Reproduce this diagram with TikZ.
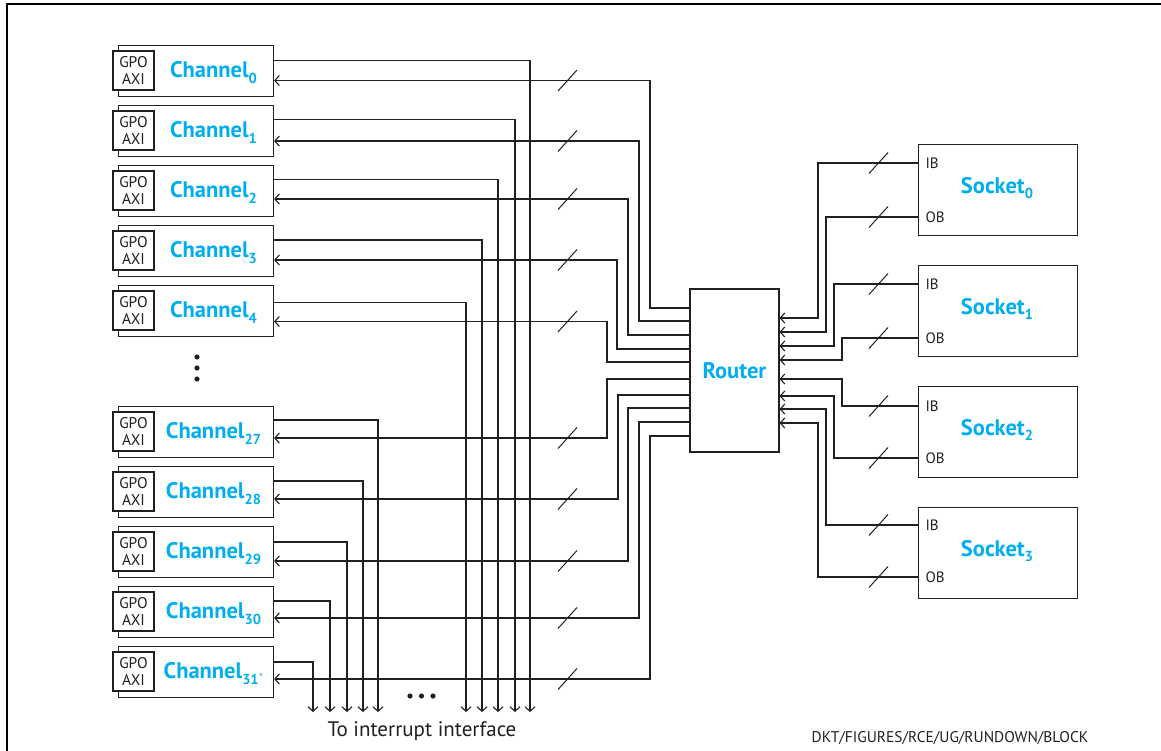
\documentclass[tikz,border=0pt]{standalone}
\usepackage{fontspec}
\setmainfont{PT Sans}
\usetikzlibrary{arrows.meta}
\definecolor{cy}{RGB}{0,174,239}
\definecolor{ink}{RGB}{35,31,32}
\newcommand{\subs}[1]{\raisebox{-5.5pt}{\fontsize{14.5}{15}\selectfont #1}}
\begin{document}
\begin{tikzpicture}[x=1pt,y=-1pt,
  line width=1.1pt, draw=ink,
  chanbox/.style={draw=ink, line width=1.1pt, minimum width=155pt, minimum height=51pt, inner sep=0pt, anchor=north west},
  gpo/.style={draw=ink, fill=white, line width=1.1pt, minimum width=41pt, minimum height=39pt, inner sep=0pt, align=center, font=\fontsize{15.5}{16.5}\selectfont, text=ink},
  chanlbl/.style={font=\fontsize{22.5}{26}\selectfont\bfseries, text=cy, inner sep=0pt},
  sockbox/.style={draw=ink, line width=1.1pt, minimum width=159pt, minimum height=91pt, inner sep=0pt, anchor=north west},
  routerbox/.style={draw=ink, line width=1.1pt, minimum width=89pt, minimum height=163pt, inner sep=0pt},
  port/.style={font=\fontsize{15}{17}\selectfont, text=ink, anchor=west, inner sep=0pt},
  wire/.style={draw=ink, line width=1.1pt},
  arr/.style={wire, -{Straight Barb[length=4.5pt,width=10pt,line width=1.1pt]}},
  slash/.style={draw=ink, line width=1pt},
  dot/.style={fill=ink, draw=none}
]
\useasboundingbox (0,0) rectangle (1161,751);
% frame
\draw[line width=1.4pt, black] (7,751) -- (7,4) -- (1161,4);

% channels: index/top/label
\foreach \i/\t/\lab in {0/45/{0}, 1/105/{1}, 2/165/{2}, 3/225/{3}, 4/285/{4},
  27/406/{27}, 28/466/{28}, 29/526/{29}, 30/586/{30}, 31/646/{31\textasciigrave}}{
  \node[chanbox] (ch\i) at (118,\t) {};
  \node[gpo] (g\i) at (133.5,\t+25.5) {GPO\\AXI};
  \node[chanlbl] (l\i) at (213.5,\t+27.5) {Channel\subs{\lab}};
}

% router
\node[routerbox] (router) at (734.5,370.5) {};
\node[font=\fontsize{22.5}{26}\selectfont\bfseries, text=cy] (rl) at (router.center) {Router};

% channel outputs to interrupt interface
\foreach \i/\o/\ox in {0/60.5/530, 1/119.5/515, 2/179.5/498, 3/240/482, 4/302.5/466,
  27/420/378, 28/481/363, 29/542/347, 30/601/330, 31/662/313}{
  \coordinate (irq\i) at (\ox,712);
  \draw[arr] (ch\i.east |- 0,\o) -| (irq\i);
}

% router to channel inputs
\foreach \i/\n/\bx/\ry in {0/80.5/650/308, 1/141/639/321, 2/199/628/335, 3/260/617/349, 4/321.5/607/362,
  27/438/607/379, 28/499/618/395, 29/561/628/408, 30/618/639/422, 31/679/650/436}{
  \draw[arr] (router.west |- 0,\ry) -| (\bx,\n) -- (ch\i.east |- 0,\n);
  \draw[slash] (558,\n+10.5) -- (577,\n-10.5);
}

% sockets
\foreach \s/\t in {0/144, 1/265, 2/386, 3/507}{
  \node[sockbox] (sk\s) at (918,\t) {};
  \node[chanlbl] (sl\s) at (997,\t+44) {Socket\subs{\s}};
}

% socket ports to router: socket/portY/label/vx/arrowY
\foreach \s/\y/\p/\vx/\ay in {0/163/IB/818/318, 0/217/OB/826/332, 1/284/IB/834/346, 1/338/OB/842/360,
  2/406/IB/842/379, 2/458/OB/834/396, 3/525/IB/826/409, 3/577/OB/818/423}{
  \node[port] at (925,\y) {\p};
  \draw[arr] (sk\s.west |- 0,\y) -| (\vx,\ay) -- (router.east |- 0,\ay);
  \draw[slash] (869,\y+10.5) -- (888,\y-10.5);
}

% ellipsis dots
\foreach \yy in {357,368,379} \fill[dot] (197,\yy) circle (2.6);
\foreach \xx in {410,421.5,433} \fill[dot] (\xx,696) circle (2.6);

\node[font=\fontsize{21}{24}\selectfont, text=ink] (irqlbl) at (422,731) {To interrupt interface};
\node[font=\fontsize{15.5}{18}\selectfont, text=ink] (tag) at (950,738) {DKT/FIGURES/RCE/UG/RUNDOWN/BLOCK};
\end{tikzpicture}
\end{document}
